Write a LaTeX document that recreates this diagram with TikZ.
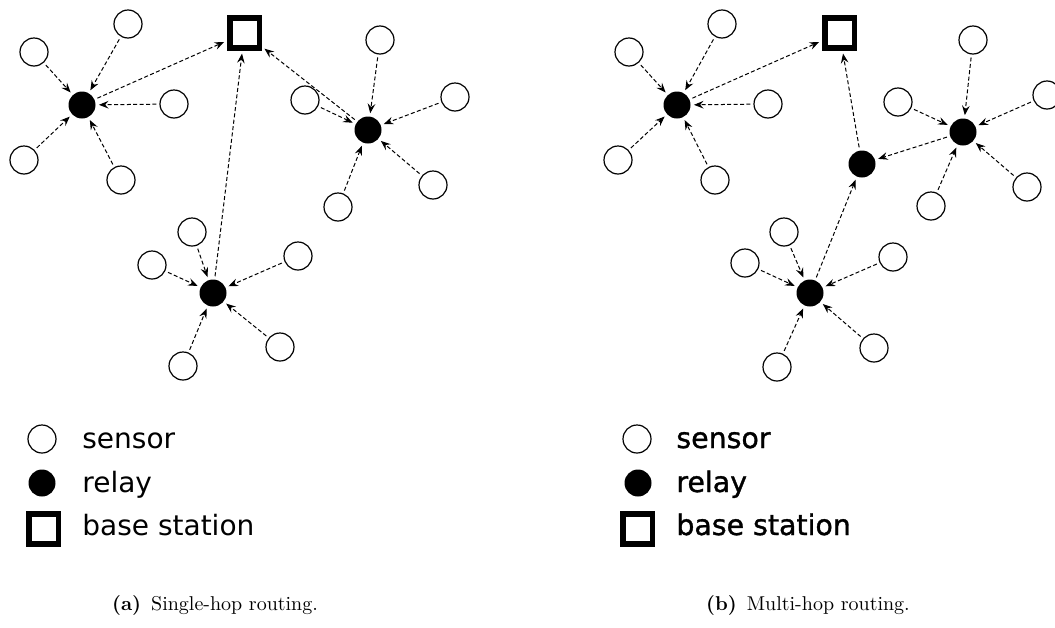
\documentclass[tikz,border=0pt]{standalone}
\usepackage{fontspec}
\usetikzlibrary{arrows.meta}
\newfontfamily\legendfont{DejaVu Sans}
\newfontfamily\legendboldfont{DejaVu Sans}[FakeBold=1.2]

\begin{document}
\begin{tikzpicture}[x=0.5pt,y=-0.5pt,
  sensor/.style={circle,draw,line width=0.6pt,minimum size=14pt,inner sep=0pt},
  relay/.style={circle,fill,minimum size=13.5pt,inner sep=0pt},
  basest/.style={rectangle,draw,line width=2.8pt,minimum size=14.8pt,inner sep=0pt},
  link/.style={-{Stealth[length=4.8pt,width=3.8pt,inset=1.7pt]},line width=0.5pt,
    dash pattern=on 2pt off 1.2pt,shorten >=1.5pt,shorten <=1.5pt},
  legtext/.style={anchor=base west,inner sep=0pt,font=\legendfont\fontsize{14}{16}\selectfont},
  legtextb/.style={anchor=base west,inner sep=0pt,font=\legendboldfont\fontsize{14.2}{16}\selectfont},
  captext/.style={anchor=base,inner sep=0pt,font=\fontsize{10}{12}\selectfont}]
\useasboundingbox (0,0) rectangle (1055,627);

% ---------- (a) single-hop ----------
\node[basest] (a-b) at (244.5,33) {};
\node[relay] (a-r1) at (82,105) {};
\node[relay] (a-r2) at (368,130) {};
\node[relay] (a-r3) at (213,293) {};

\foreach \n/\p in {1/{(34,52)},2/{(128,24)},3/{(174,104)},4/{(24,160)},5/{(121,180)}}
  \node[sensor] (a-s1\n) at \p {};
\foreach \n/\p in {1/{(380,40)},2/{(455,97)},3/{(305,100)},4/{(433,185)},5/{(338,207)}}
  \node[sensor] (a-s2\n) at \p {};
\foreach \n/\p in {1/{(192,232)},2/{(152,265)},3/{(298,256)},4/{(280,347)},5/{(183,366)}}
  \node[sensor] (a-s3\n) at \p {};

\foreach \g in {1,2,3}
  \foreach \n in {1,...,5}
    \draw[link] (a-s\g\n) -- (a-r\g);
\draw[link] (a-r1) -- (a-b);
\draw[link] (a-r2) -- (a-b);
\draw[link] (a-r3) -- (a-b);

% legend (a)
\node[sensor] (a-ls) at (42,439) {};
\node[legtext] (a-lst) at (82,448) {sensor};
\node[relay] (a-lr) at (42,483) {};
\node[legtext] (a-lrt) at (82,492) {relay};
\node[basest] (a-lb) at (43.5,529) {};
\node[legtext] (a-lbt) at (82,535) {base station};

\node[captext] (a-cap) at (215,610) {\textbf{(a)}\hspace{0.5em}Single-hop routing.};

% ---------- (b) multi-hop ----------
\node[basest] (b-b) at (839.5,33) {};
\node[relay] (b-r1) at (677,105) {};
\node[relay] (b-r2) at (862,164) {};
\node[relay] (b-r3) at (963,132) {};
\node[relay] (b-r4) at (810,293) {};

\foreach \n/\p in {1/{(629,52)},2/{(722,24)},3/{(768,104)},4/{(618,160)},5/{(715,180)}}
  \node[sensor] (b-s1\n) at \p {};
\foreach \n/\p in {1/{(973,40)},2/{(898,102)},3/{(1047,95)},4/{(1027,187)},5/{(931,206)}}
  \node[sensor] (b-s3\n) at \p {};
\foreach \n/\p in {1/{(784,232)},2/{(745,263)},3/{(893,257)},4/{(874,348)},5/{(777,367)}}
  \node[sensor] (b-s4\n) at \p {};

\foreach \g in {1,3,4}
  \foreach \n in {1,...,5}
    \draw[link] (b-s\g\n) -- (b-r\g);
\draw[link] (b-r1) -- (b-b);
\draw[link] (b-r2) -- (b-b);
\draw[link] (b-r3) -- (b-r2);
\draw[link] (b-r4) -- (b-r2);

% legend (b)
\node[sensor] (b-ls) at (637,439) {};
\node[legtextb] (b-lst) at (676,448) {sensor};
\node[relay] (b-lr) at (638,483) {};
\node[legtextb] (b-lrt) at (676,492) {relay};
\node[basest] (b-lb) at (637.5,529) {};
\node[legtextb] (b-lbt) at (676,535) {base station};

\node[captext] (b-cap) at (808,610) {\textbf{(b)}\hspace{0.5em}Multi-hop routing.};
\end{tikzpicture}
\end{document}
